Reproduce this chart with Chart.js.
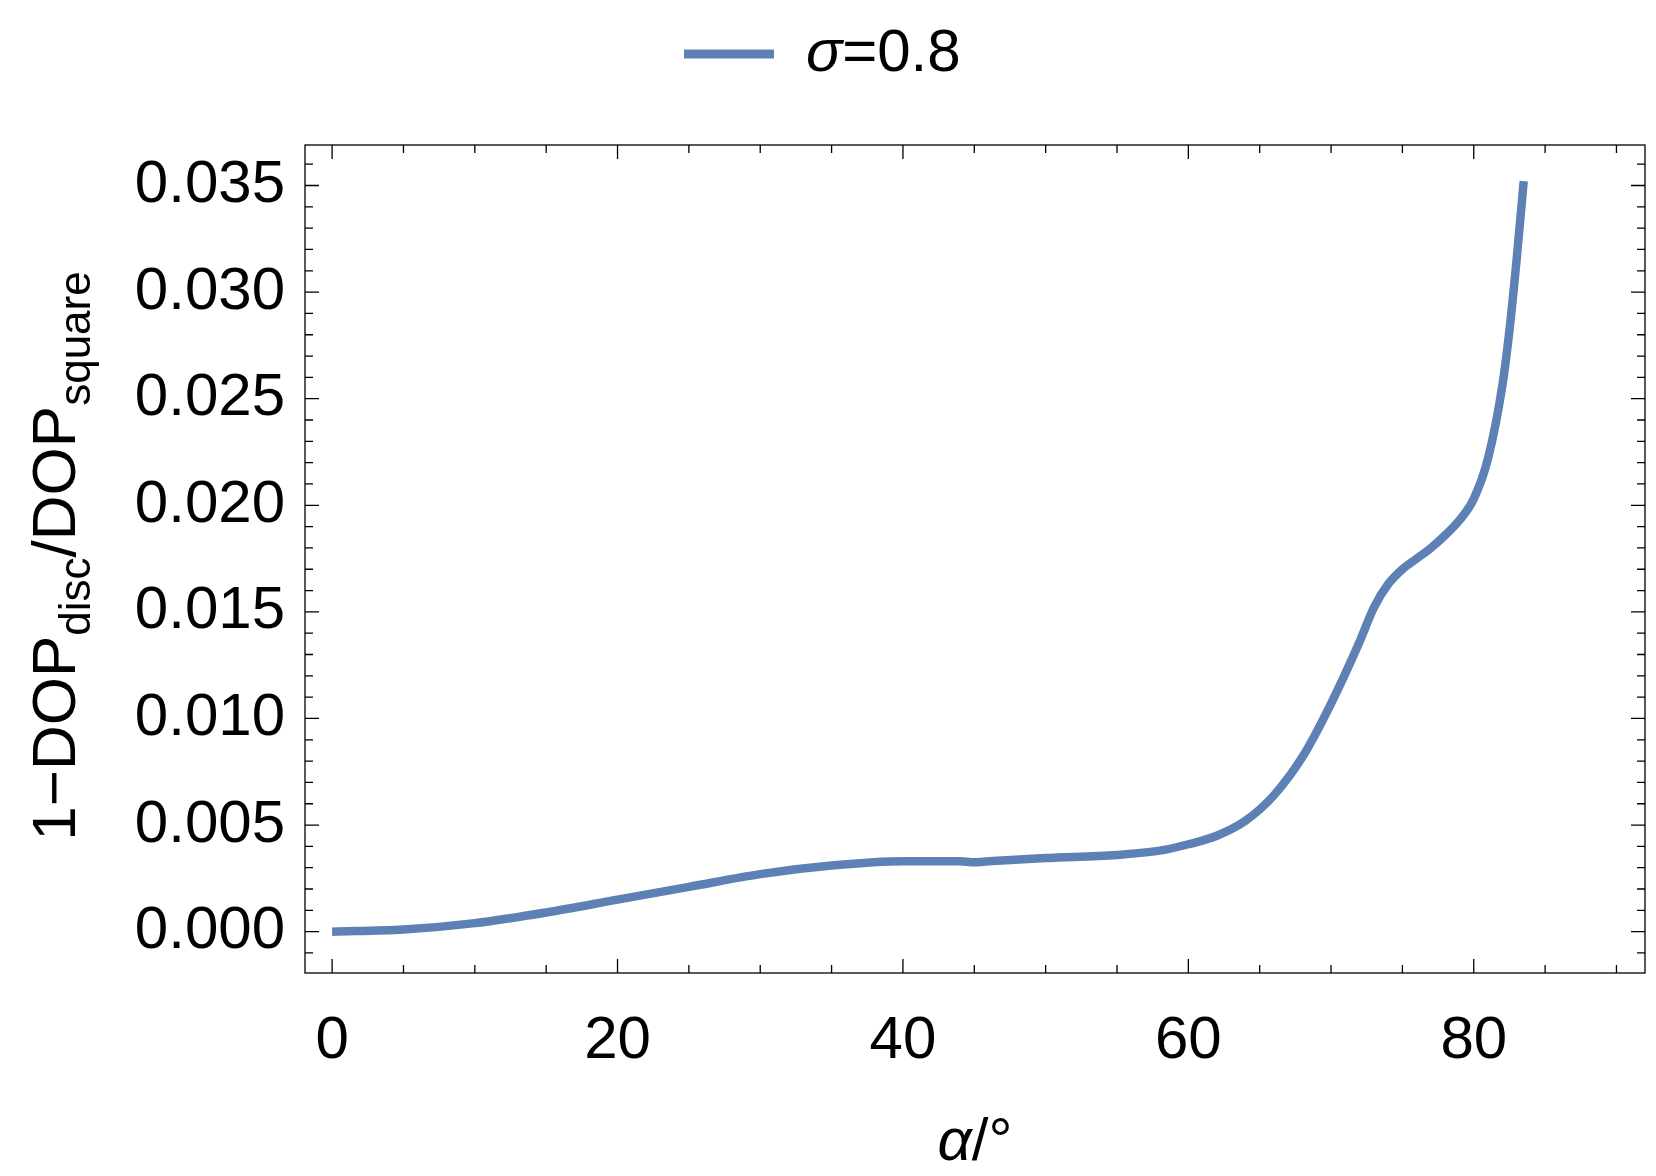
<!DOCTYPE html>
<html><head><meta charset="utf-8">
<script src="https://cdn.jsdelivr.net/npm/chart.js@4"></script>
<style>html,body{margin:0;padding:0;background:#fff}#w{width:1656px;height:1176px}</style>
</head><body><div id="w"><canvas id="c"></canvas></div>
<script>
const alphaDeg = [0,5,10,15,20,25,30,35,40,44,45,46,50,55,58,60,62,64,66,68,70,72,73,74,75,76,77,78,79,80,81,82,82.5,83,83.5];
const ratioDiff = [0,0.0001,0.0004,0.0009,0.0015,0.0021,0.0027,0.0031,0.0033,0.0033,0.00325,0.0033,0.00345,0.0036,0.0038,0.0041,0.0045,0.0052,0.0064,0.0082,0.0107,0.0136,0.0152,0.0163,0.0170,0.0175,0.0180,0.0186,0.0193,0.0203,0.0222,0.0256,0.0282,0.0315,0.0352];
const seriesLabel = "σ=0.8";
const FONT = '"Liberation Sans", Arial, sans-serif';
const COLOR = '#5E81B5';

const deco = {
  id:'deco',
  afterDraw(ch){
    const c=ch.ctx, a=ch.chartArea, xs=ch.scales.x, ys=ch.scales.y;
    c.save();
    c.strokeStyle='#000'; c.lineWidth=1.3;
    c.strokeRect(a.left,a.top,a.right-a.left,a.bottom-a.top);
    c.beginPath();
    for(let v=0; v<=90; v+=5){
      const p=xs.getPixelForValue(v), L=(v%20===0)?14:8;
      c.moveTo(p,a.bottom); c.lineTo(p,a.bottom-L);
      c.moveTo(p,a.top); c.lineTo(p,a.top+L);
    }
    for(let i=-1;i<=36;i++){
      const v=i*0.001, p=ys.getPixelForValue(v);
      if(p<a.top||p>a.bottom) continue;
      const L=(i%5===0)?14:8;
      c.moveTo(a.left,p); c.lineTo(a.left+L,p);
      c.moveTo(a.right,p); c.lineTo(a.right-L,p);
    }
    c.stroke();
    c.fillStyle='#000'; c.textBaseline='alphabetic';
    const t1='α', t2='/°';
    c.font='italic 60px '+FONT; const w1=c.measureText(t1).width;
    c.font='60px '+FONT; const w2=c.measureText(t2).width;
    let x0=(a.left+a.right)/2-(w1+w2)/2;
    c.font='italic 60px '+FONT; c.fillText(t1,x0,1160);
    c.font='60px '+FONT; c.fillText(t2,x0+w1,1160);
    c.translate(75,556); c.rotate(-Math.PI/2);
    const parts=[['1−DOP',62,0],['disc',44,15],['/DOP',62,0],['square',44,15]];
    let tw=0; parts.forEach(p=>{c.font=p[1]+'px '+FONT; tw+=c.measureText(p[0]).width;});
    let px=-tw/2;
    parts.forEach(p=>{c.font=p[1]+'px '+FONT; c.fillText(p[0],px,p[2]); px+=c.measureText(p[0]).width;});
    c.restore();
    c.save();
    c.strokeStyle=COLOR; c.lineWidth=9;
    c.beginPath(); c.moveTo(684,54); c.lineTo(774,54); c.stroke();
    c.fillStyle='#000'; c.textBaseline='middle';
    c.font='italic 60px '+FONT; c.fillText('σ',806,54);
    const ws=c.measureText('σ').width;
    c.font='60px '+FONT; c.fillText('=0.8',806+ws,54);
    c.restore();
  }
};

new Chart(document.getElementById('c'),{
  type:'line',
  data:{datasets:[{label:seriesLabel,data:alphaDeg.map((x,i)=>({x:x,y:ratioDiff[i]})),
    borderColor:COLOR,borderWidth:8.5,pointRadius:0,tension:0.4,cubicInterpolationMode:'monotone',fill:false}]},
  options:{
    responsive:true,maintainAspectRatio:false,animation:false,
    layout:{padding:{left:0,right:11,top:145,bottom:0}},
    plugins:{legend:{display:false},tooltip:{enabled:false}},
    scales:{
      x:{type:'linear',min:-1.9,max:92,grid:{display:false},border:{display:false},
        afterFit(s){s.height=203;},
        afterBuildTicks(s){s.ticks=[0,20,40,60,80].map(v=>({value:v}));},
        ticks:{padding:24,color:'#000',font:{family:FONT,size:60},callback:v=>String(v),maxRotation:0}},
      y:{type:'linear',min:-0.00194,max:0.0369,grid:{display:false},border:{display:false},
        afterFit(s){s.width=305;},
        afterBuildTicks(s){s.ticks=[0,0.005,0.01,0.015,0.02,0.025,0.03,0.035].map(v=>({value:v}));},
        ticks:{padding:12,color:'#000',font:{family:FONT,size:60},callback:v=>Number(v).toFixed(3)}}
    }
  },
  plugins:[deco]
});
</script></body></html>
